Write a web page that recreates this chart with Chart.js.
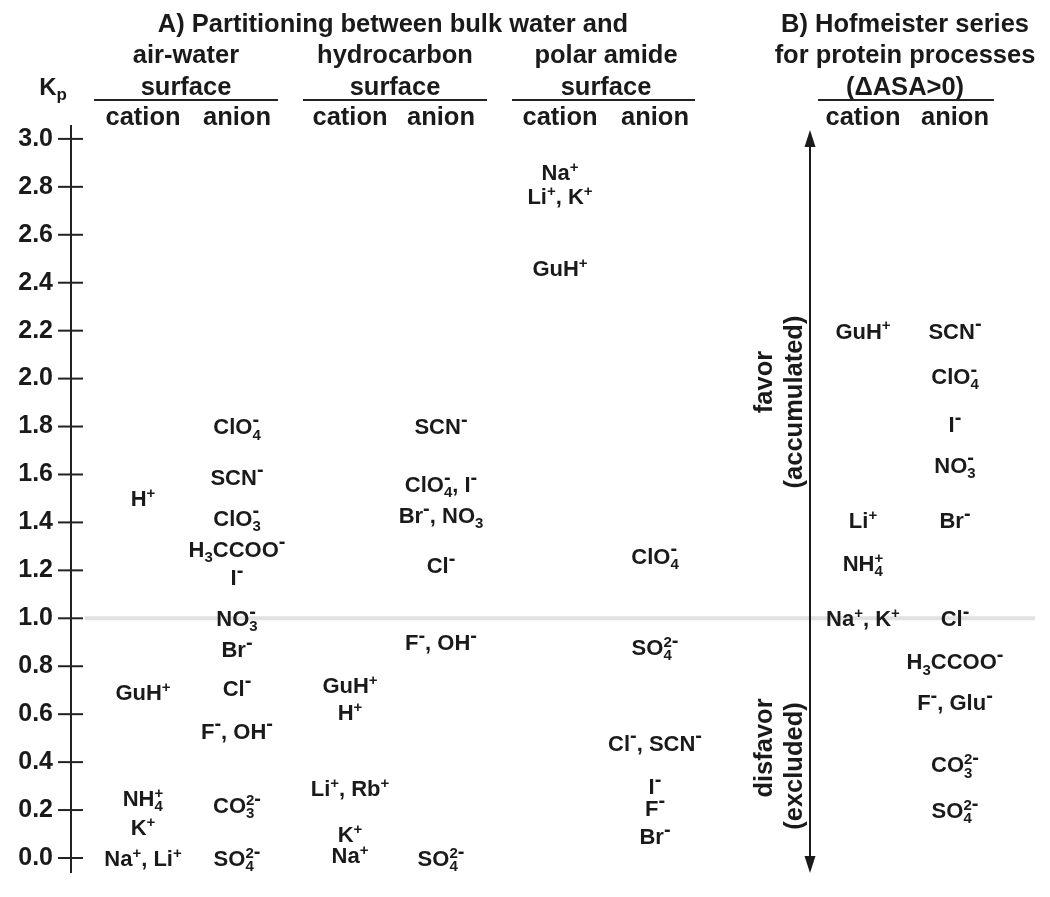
<!DOCTYPE html>
<html>
<head>
<meta charset="utf-8">
<script src="https://cdn.jsdelivr.net/npm/chart.js@4/dist/chart.umd.min.js"></script>
<style>
  html, body { margin: 0; padding: 0; background: #ffffff; }
  #wrap { width: 1050px; height: 897px; position: relative; }
</style>
</head>
<body>
<div id="wrap"><canvas id="c" width="1050" height="897"></canvas></div>
<script>
// ---------------- DATA ----------------
// Tick labels of the Kp axis
const TICK_VALUES = [0.0, 0.2, 0.4, 0.6, 0.8, 1.0, 1.2, 1.4, 1.6, 1.8, 2.0, 2.2, 2.4, 2.6, 2.8, 3.0];

// Column categories
const COLUMN_NAMES = ["air-water cation", "air-water anion", "hydrocarbon cation", "hydrocarbon anion",
                      "polar amide cation", "polar amide anion", "Hofmeister cation", "Hofmeister anion"];

// A) air-water surface
const AW_CATION    = ["H^{+}", "GuH^{+}", "NH_{4}^{+}", "K^{+}", "Na^{+}, Li^{+}"];
const AW_CATION_KP = [1.50, 0.69, 0.25, 0.13, 0.00];
const AW_ANION     = ["ClO_{4}^{-}", "SCN^{-}", "ClO_{3}^{-}", "H_{3}CCOO^{-}", "I^{-}", "NO_{3}^{-}", "Br^{-}", "Cl^{-}", "F^{-}, OH^{-}", "CO_{3}^{2-}", "SO_{4}^{2-}"];
const AW_ANION_KP  = [1.80, 1.59, 1.42, 1.29, 1.17, 1.00, 0.87, 0.71, 0.53, 0.22, 0.00];

// A) hydrocarbon surface
const HC_CATION    = ["GuH^{+}", "H^{+}", "Li^{+}, Rb^{+}", "K^{+}", "Na^{+}"];
const HC_CATION_KP = [0.72, 0.61, 0.29, 0.10, 0.01];
const HC_ANION     = ["SCN^{-}", "ClO_{4}^{-}, I^{-}", "Br^{-}, NO_{3}", "Cl^{-}", "F^{-}, OH^{-}", "SO_{4}^{2-}"];
const HC_ANION_KP  = [1.80, 1.56, 1.43, 1.22, 0.90, 0.00];

// A) polar amide surface
const PA_CATION    = ["Na^{+}", "Li^{+}, K^{+}", "GuH^{+}"];
const PA_CATION_KP = [2.86, 2.76, 2.46];
const PA_ANION     = ["ClO_{4}^{-}", "SO_{4}^{2-}", "Cl^{-}, SCN^{-}", "I^{-}", "F^{-}", "Br^{-}"];
const PA_ANION_KP  = [1.26, 0.88, 0.48, 0.30, 0.21, 0.09];

// B) Hofmeister series (placed on the same Kp scale)
const HOF_CATION    = ["GuH^{+}", "Li^{+}", "NH_{4}^{+}", "Na^{+}, K^{+}"];
const HOF_CATION_KP = [2.20, 1.41, 1.23, 1.00];
const HOF_ANION     = ["SCN^{-}", "ClO_{4}^{-}", "I^{-}", "NO_{3}^{-}", "Br^{-}", "Cl^{-}", "H_{3}CCOO^{-}", "F^{-}, Glu^{-}", "CO_{3}^{2-}", "SO_{4}^{2-}"];
const HOF_ANION_KP  = [2.20, 2.01, 1.81, 1.64, 1.41, 1.00, 0.82, 0.65, 0.39, 0.20];

// ---------------- LAYOUT / STYLE ----------------
const FONT = "'Liberation Sans', Arial, Helvetica, sans-serif";
const INK = "#1a1a1a";
const COLUMN_POS = [72, 166, 279, 370, 489, 584, 792, 884]; // x-scale positions of columns
const Y_MIN = -0.0626, Y_MAX = 3.058;
const LBL = 22, LBL_SMALL = 15, LBL_MINUS = 20;

const SERIES = [
  [AW_CATION, AW_CATION_KP], [AW_ANION, AW_ANION_KP],
  [HC_CATION, HC_CATION_KP], [HC_ANION, HC_ANION_KP],
  [PA_CATION, PA_CATION_KP], [PA_ANION, PA_ANION_KP],
  [HOF_CATION, HOF_CATION_KP], [HOF_ANION, HOF_ANION_KP]
];

const datasets = SERIES.map((s, ci) => ({
  label: COLUMN_NAMES[ci],
  data: s[1].map((v, i) => ({ x: COLUMN_POS[ci], y: v, name: s[0][i] })),
  pointRadius: 0,
  pointHoverRadius: 0,
  showLine: false
}));

// ---------- rich text (sub/superscripts, stacked) ----------
function parseRich(str) {
  const toks = [];
  let i = 0, buf = '';
  while (i < str.length) {
    const c = str[i];
    if ((c === '_' || c === '^') && str[i + 1] === '{') {
      if (buf) { toks.push({ k: 'n', s: buf }); buf = ''; }
      const j = str.indexOf('}', i + 2);
      toks.push({ k: c === '_' ? 'sub' : 'sup', s: str.slice(i + 2, j) });
      i = j + 1;
    } else { buf += c; i++; }
  }
  if (buf) toks.push({ k: 'n', s: buf });
  const groups = [];
  for (const t of toks) {
    const last = groups[groups.length - 1];
    if (t.k !== 'n' && last && last.script && last.items.length === 1 && last.items[0].k !== t.k) {
      last.items.push(t);
    } else {
      groups.push({ script: t.k !== 'n', items: [t] });
    }
  }
  return groups;
}
function charFont(k, ch, size, small, minus) {
  if (k === 'n') return "bold " + size + "px " + FONT;
  if (k === 'sup' && ch === '-') return "bold " + minus + "px " + FONT;
  return "bold " + small + "px " + FONT;
}
function drawRich(ctx, str, cx, cy, size, small, minus) {
  const groups = parseRich(str);
  let total = 0;
  for (const g of groups) {
    g.w = 0;
    for (const it of g.items) {
      it.w = 0;
      const chars = it.k === 'n' ? [it.s] : it.s.split('');
      it.parts = chars.map(ch => {
        ctx.font = charFont(it.k, ch, size, small, minus);
        const w = ctx.measureText(ch).width;
        const p = { ch, w, off: it.w, font: ctx.font };
        it.w += w;
        return p;
      });
      g.w = Math.max(g.w, it.w);
    }
    total += g.w;
  }
  const base = cy + size * 0.358;
  let x = cx - total / 2;
  ctx.textAlign = 'left';
  ctx.textBaseline = 'alphabetic';
  ctx.fillStyle = INK;
  for (const g of groups) {
    for (const it of g.items) {
      for (const p of it.parts) {
        ctx.font = p.font;
        let y = base;
        if (it.k === 'sup') y = (p.ch === '-') ? base - size * 0.38 : base - size * 0.37;
        if (it.k === 'sub') y = base + size * 0.24;
        ctx.fillText(p.ch, x + p.off, y);
      }
    }
    x += g.w;
  }
}
function centerText(ctx, txt, x, baseline, size) {
  ctx.font = "bold " + size + "px " + FONT;
  ctx.textAlign = 'center';
  ctx.textBaseline = 'alphabetic';
  ctx.fillStyle = INK;
  ctx.fillText(txt, x, baseline);
}

const HEADER_GROUPS = [
  { lines: ["air-water", "surface"], cx: 186, from: 94, to: 278 },
  { lines: ["hydrocarbon", "surface"], cx: 395, from: 303, to: 487 },
  { lines: ["polar amide", "surface"], cx: 606, from: 512, to: 695 },
  { lines: ["for protein processes", "(\u0394ASA>0)"], cx: 905, from: 818, to: 994 }
];

const figurePlugin = {
  id: 'figure',
  beforeDraw(chart) {
    const ctx = chart.ctx;
    ctx.save();
    ctx.fillStyle = '#ffffff';
    ctx.fillRect(0, 0, chart.width, chart.height);
    ctx.restore();
  },
  beforeDatasetsDraw(chart) {
    const ctx = chart.ctx, ys = chart.scales.y, ca = chart.chartArea;
    const y1 = ys.getPixelForValue(1.0);
    ctx.save();
    ctx.strokeStyle = '#e1e1e1';
    ctx.lineWidth = 4;
    ctx.beginPath();
    ctx.moveTo(ca.left + 14, y1);
    ctx.lineTo(ca.right, y1);
    ctx.stroke();
    ctx.restore();
  },
  afterDatasetsDraw(chart) {
    const ctx = chart.ctx, ys = chart.scales.y, xs = chart.scales.x, ca = chart.chartArea;
    ctx.save();
    // ion labels
    chart.data.datasets.forEach((ds, di) => {
      const meta = chart.getDatasetMeta(di);
      meta.data.forEach((pt, i) => {
        drawRich(ctx, ds.data[i].name, pt.x, pt.y, LBL, LBL_SMALL, LBL_MINUS);
      });
    });
    // axis line and crossing ticks
    ctx.strokeStyle = '#222';
    ctx.lineWidth = 2;
    ctx.beginPath();
    ctx.moveTo(ca.left, ca.top);
    ctx.lineTo(ca.left, ca.bottom);
    ctx.stroke();
    ys.ticks.forEach(t => {
      const y = ys.getPixelForValue(t.value);
      ctx.beginPath();
      ctx.moveTo(ca.left - 13, y);
      ctx.lineTo(ca.left + 12, y);
      ctx.stroke();
    });
    // Kp label
    drawRich(ctx, "K_{p}", 53, 86, 24, 17, 17);
    // headers
    centerText(ctx, "A) Partitioning between bulk water and", 393, 32, 25.5);
    centerText(ctx, "B) Hofmeister series", 905, 32, 25.5);
    HEADER_GROUPS.forEach(g => {
      centerText(ctx, g.lines[0], g.cx, 63, 25.5);
      centerText(ctx, g.lines[1], g.cx, 94.5, 25.5);
      ctx.strokeStyle = '#222';
      ctx.lineWidth = 2;
      ctx.beginPath();
      ctx.moveTo(g.from, 100);
      ctx.lineTo(g.to, 100);
      ctx.stroke();
    });
    COLUMN_POS.forEach((p, i) => {
      centerText(ctx, i % 2 === 0 ? "cation" : "anion", xs.getPixelForValue(p), 125, 25.5);
    });
    // double-headed arrow
    const ax = 810, top = 130, bot = ca.bottom;
    ctx.strokeStyle = '#1a1a1a';
    ctx.fillStyle = '#1a1a1a';
    ctx.lineWidth = 2;
    ctx.beginPath();
    ctx.moveTo(ax, top + 10);
    ctx.lineTo(ax, bot - 10);
    ctx.stroke();
    ctx.beginPath();
    ctx.moveTo(ax, top); ctx.lineTo(ax - 5.5, top + 17); ctx.lineTo(ax + 5.5, top + 17); ctx.closePath(); ctx.fill();
    ctx.beginPath();
    ctx.moveTo(ax, bot); ctx.lineTo(ax - 5.5, bot - 17); ctx.lineTo(ax + 5.5, bot - 17); ctx.closePath(); ctx.fill();
    // rotated side labels
    const rot = (txt, x, y) => {
      ctx.save();
      ctx.translate(x, y);
      ctx.rotate(-Math.PI / 2);
      ctx.font = "bold 25.5px " + FONT;
      ctx.textAlign = 'center';
      ctx.textBaseline = 'middle';
      ctx.fillStyle = INK;
      ctx.fillText(txt, 0, 0);
      ctx.restore();
    };
    rot("favor", 765, 382);
    rot("(accumulated)", 795, 402);
    rot("disfavor", 765, 748);
    rot("(excluded)", 795, 766);
    ctx.restore();
  }
};

new Chart(document.getElementById('c'), {
  type: 'scatter',
  data: { datasets },
  options: {
    responsive: false,
    animation: false,
    events: [],
    layout: { padding: { top: 125, bottom: 24, left: 0, right: 15 } },
    plugins: { legend: { display: false }, tooltip: { enabled: false } },
    scales: {
      x: {
        type: 'linear', min: 0, max: 964, display: false,
        afterFit: (scale) => { scale.paddingLeft = 0; scale.paddingRight = 0; scale.paddingTop = 0; scale.paddingBottom = 0; }
      },
      y: {
        type: 'linear',
        min: Y_MIN,
        max: Y_MAX,
        grid: { display: false, drawTicks: false },
        border: { display: false },
        afterBuildTicks: (scale) => { scale.ticks = TICK_VALUES.map(v => ({ value: v })); },
        afterFit: (scale) => { scale.width = 71; scale.paddingTop = 0; scale.paddingBottom = 0; },
        ticks: {
          padding: 18,
          color: INK,
          font: { family: FONT, size: 25, weight: 'bold' },
          callback: (v) => Number(v).toFixed(1)
        }
      }
    }
  },
  plugins: [figurePlugin]
});
</script>
</body>
</html>
